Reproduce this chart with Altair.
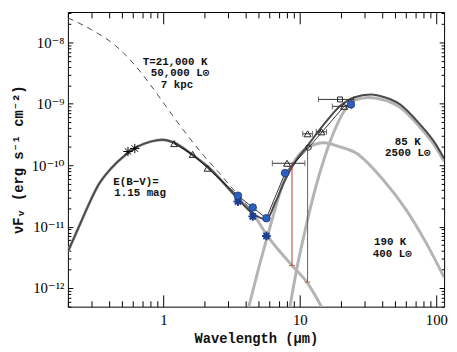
import altair as alt
import pandas as pd

# ---------------- data (wavelength in micron, nuFnu in erg s-1 cm-2)
# unreddened photosphere (dashed)
dash_wl = [0.2, 0.298, 0.444, 0.618, 0.793, 0.984, 1.416, 1.97, 2.57, 3.41, 4.9]
dash_f = [2.51e-8, 1.61e-8, 8.95e-9, 4.29e-9, 2.13e-9, 1.1e-9, 3.63e-10, 1.45e-10, 7.45e-11, 3.56e-11, 1.42e-11]

# reddened photosphere (light grey)
star_wl = [0.2, 0.24, 0.284, 0.335, 0.416, 0.524, 0.629, 0.805, 0.984, 1.2, 1.62, 2.14, 3.41, 4.52, 5.79, 8.76, 11.4, 14.4]
star_f = [3.91e-12, 9.82e-12, 2.29e-11, 4.79e-11, 8.95e-11, 1.45e-10, 1.94e-10, 2.42e-10, 2.61e-10, 2.33e-10,
          1.5e-10, 9.29e-11, 3.08e-11, 1.64e-11, 7.05e-12, 2.33e-12, 1.2e-12, 4.97e-13]

# 190 K dust component (light grey)
w190_wl = [4.23, 4.99, 6.08, 7.55, 9.2, 11.4, 15.1, 19.4, 26.1, 40.9, 59.8, 83.4, 114]
w190_f = [4.97e-13, 2.09e-12, 1.02e-11, 5.15e-11, 1.2e-10, 1.94e-10, 2.33e-10, 2.01e-10, 1.56e-10, 5.75e-11,
          1.91e-11, 5.65e-12, 1.5e-12]

# 85 K dust component (light grey)
c85_wl = [8.47, 9.51, 10.9, 12.8, 15.1, 17.9, 21.1, 24.9, 31.9, 42.3, 54.2, 75.5, 98.4, 114]
c85_f = [4.97e-13, 2.09e-12, 8.47e-12, 3.7e-11, 1.29e-10, 3.63e-10, 7.59e-10, 1.14e-9, 1.27e-9, 1.14e-9,
         8.79e-10, 4.21e-10, 2.01e-10, 1.16e-10]

# total model (dark grey)
tot_wl = [0.2, 0.24, 0.284, 0.335, 0.416, 0.524, 0.629, 0.805, 0.984, 1.2, 1.62, 2.14, 3.41, 4.52, 5.7, 6.61,
          7.8, 9.2, 11.4, 15.1, 20.0, 24.9, 33.0, 42.3, 54.2, 75.5, 98.4, 114]
tot_f = [3.91e-12, 9.82e-12, 2.29e-11, 4.79e-11, 8.95e-11, 1.45e-10, 1.94e-10, 2.42e-10, 2.61e-10, 2.33e-10,
         1.5e-10, 9.29e-11, 3.08e-11, 1.64e-11, 1.32e-11, 2.47e-11, 5.75e-11, 1.12e-10, 2.09e-10, 4.7e-10,
         9.46e-10, 1.27e-9, 1.42e-9, 1.27e-9, 9.82e-10, 4.7e-10, 2.25e-10, 1.29e-10]

# observed SED (thin black line)
obs_wl = [1.2, 1.64, 2.11, 3.52, 4.52, 5.69, 7.8, 11.6, 21.1, 23.7]
obs_f = [2.25e-10, 1.5e-10, 8.95e-11, 3.19e-11, 2.05e-11, 1.37e-11, 7.45e-11, 1.94e-10, 9.1e-10, 9.8e-10]

# photometry
ast_wl = [0.551, 0.618]
ast_f = [1.675e-10, 1.87e-10]
tri_wl = [1.2, 1.64, 2.11, 8.06, 11.4, 14.4, 21.1]
tri_f = [2.25e-10, 1.5e-10, 8.95e-11, 1.076e-10, 3.25e-10, 3.5e-10, 9.1e-10]
sq_wl = [19.7]
sq_f = [1.18e-9]
circ_wl = [11.6]
circ_f = [1.94e-10]
blue_wl = [3.52, 4.52, 5.69, 7.8, 23.7]
blue_f = [3.19e-11, 2.05e-11, 1.37e-11, 7.45e-11, 9.8e-10]
bstar_wl = [3.52, 4.52, 5.69]
bstar_f = [2.56e-11, 1.47e-11, 7.05e-12]

# horizontal error bars
err_f = [1.076e-10, 1.18e-9, 9.1e-10, 3.25e-10, 3.5e-10]
err_lo = [6.29, 13.7, 17.3, 10.5, 13.2]
err_hi = [10.9, 24.9, 24.0, 12.4, 15.7]

# red vertical ranges
red_wl = [8.76, 11.4]
red_top = [1.03e-10, 1.94e-10]
red_bot = [2.33e-12, 1.25e-12]

# annotations
ann_text = ["T=21,000 K", "50,000 L⊙", "7 kpc", "85 K", "2500 L⊙", "190 K", "400 L⊙"]
ann_wl = [1.22, 1.325, 1.26, 61.8, 61.8, 45.9, 47.5]
ann_f = [4.79e-9, 3.13e-9, 2.0e-9, 2.42e-10, 1.56e-10, 5.65e-12, 3.63e-12]
ebv_text = ["E(B−V)=", "1.15 mag"]
ebv_wl = [0.43, 0.437]
ebv_f = [5.35e-11, 3.56e-11]

# axis ticks
x_major = [1, 10, 100]
x_minor = [0.2, 0.3, 0.4, 0.5, 0.6, 0.7, 0.8, 0.9, 2, 3, 4, 5, 6, 7, 8, 9, 20, 30, 40, 50, 60, 70, 80, 90]
y_major = [1e-12, 1e-11, 1e-10, 1e-9, 1e-8]
y_minor = [k * 10.0 ** e for e in range(-13, -7) for k in range(2, 10) if 5e-13 <= k * 10.0 ** e <= 3.1e-8]

# ---------------- chart
XS = alt.Scale(type="log", domain=[0.2, 114], nice=False)
YS = alt.Scale(type="log", domain=[4.97e-13, 3.13e-8], nice=False)
FL = "Liberation Serif, DejaVu Serif"
FT = "Liberation Mono, DejaVu Sans Mono"

y_lab = ("datum.value < 5e-12 ? '10⁻¹²' : datum.value < 5e-11 ? '10⁻¹¹' : "
         "datum.value < 5e-10 ? '10⁻¹⁰' : datum.value < 5e-9 ? '10⁻⁹' : '10⁻⁸'")
x_lab = "datum.value < 5 ? '1' : datum.value < 50 ? '10' : '100'"

common = dict(domain=False, grid=False, tickColor="black", tickWidth=1, labelOverlap=False)

ax_xb_major = alt.Axis(orient="bottom", values=x_major, tickSize=12, offset=-12, labelExpr=x_lab,
                       labelFont=FL, labelFontSize=15, labelColor="black", labelPadding=6,
                       title="Wavelength (μm)", titleFont=FT, titleFontSize=14, titleFontWeight="bold",
                       titleColor="#111111", titlePadding=4, **common)
ax_xb_minor = alt.Axis(orient="bottom", values=x_minor, tickSize=6, offset=-6, labels=False, title=None, **common)
ax_xt_major = alt.Axis(orient="top", values=x_major, tickSize=12, offset=-12, labels=False, title=None, **common)
ax_xt_minor = alt.Axis(orient="top", values=x_minor, tickSize=6, offset=-6, labels=False, title=None, **common)

ax_yl_major = alt.Axis(orient="left", values=y_major, tickSize=5, offset=-5, labelExpr=y_lab,
                       labelFont=FL, labelFontSize=15, labelColor="black", labelPadding=4,
                       title="νFᵥ (erg s⁻¹ cm⁻²)", titleFont=FT, titleFontSize=14, titleFontWeight="bold",
                       titleColor="#111111", titlePadding=6, **common)
ax_yl_minor = alt.Axis(orient="left", values=y_minor, tickSize=3, offset=-3, labels=False, title=None, **common)
ax_yr_major = alt.Axis(orient="right", values=y_major, tickSize=5, offset=-5, labels=False, title=None, **common)
ax_yr_minor = alt.Axis(orient="right", values=y_minor, tickSize=3, offset=-3, labels=False, title=None, **common)


def enc(xax=None, yax=None, x="wl", y="f"):
    return dict(x=alt.X(f"{x}:Q", scale=XS, axis=xax), y=alt.Y(f"{y}:Q", scale=YS, axis=yax))


def df(wl, f):
    return pd.DataFrame({"wl": wl, "f": f})


LIGHT = "#b4b4b4"
DARK = "#4a4a4a"

l_star = alt.Chart(df(star_wl, star_f)).mark_line(color=LIGHT, strokeWidth=3, interpolate="monotone", clip=True).encode(
    **enc(ax_xb_major, ax_yl_major))
l_190 = alt.Chart(df(w190_wl, w190_f)).mark_line(color=LIGHT, strokeWidth=3, interpolate="monotone", clip=True).encode(
    **enc(ax_xb_minor, ax_yl_minor))
l_85 = alt.Chart(df(c85_wl, c85_f)).mark_line(color=LIGHT, strokeWidth=3, interpolate="monotone", clip=True).encode(
    **enc(ax_xt_major, ax_yr_major))
l_tot = alt.Chart(df(tot_wl, tot_f)).mark_line(color=DARK, strokeWidth=2, interpolate="monotone", clip=True).encode(
    **enc(ax_xt_minor, ax_yr_minor))
l_dash = alt.Chart(df(dash_wl, dash_f)).mark_line(color=DARK, strokeWidth=1, strokeDash=[6, 5],
                                                 interpolate="monotone", clip=True).encode(**enc())
l_obs = alt.Chart(df(obs_wl, obs_f)).mark_line(color="black", strokeWidth=0.8, clip=True).encode(**enc())

err_df = pd.DataFrame({"f": err_f, "lo": err_lo, "hi": err_hi})
e_bar = alt.Chart(err_df).mark_rule(color="#333333", strokeWidth=1, clip=True).encode(
    x=alt.X("lo:Q", scale=XS, axis=None), x2="hi:Q", y=alt.Y("f:Q", scale=YS, axis=None))
e_cap_lo = alt.Chart(err_df).mark_tick(color="#333333", orient="vertical", size=6, thickness=1, clip=True).encode(
    **enc(x="lo"))
e_cap_hi = alt.Chart(err_df).mark_tick(color="#333333", orient="vertical", size=6, thickness=1, clip=True).encode(
    **enc(x="hi"))

red_df = pd.DataFrame({"wl": red_wl, "top": red_top, "bot": red_bot})
r_rule = alt.Chart(red_df).mark_rule(color="#c0392b", strokeWidth=1).encode(
    x=alt.X("wl:Q", scale=XS, axis=None), y=alt.Y("top:Q", scale=YS, axis=None), y2="bot:Q")
r_cap = alt.Chart(red_df).mark_tick(color="#c0392b", orient="horizontal", size=6, thickness=1).encode(
    **enc(y="bot"))

AST = "M-1,0L1,0M0,-1L0,1M-0.7,-0.7L0.7,0.7M-0.7,0.7L0.7,-0.7"
p_ast = alt.Chart(df(ast_wl, ast_f)).mark_point(shape=AST, size=90, filled=False, color="black",
                                                 strokeWidth=1, opacity=1).encode(**enc())
p_tri = alt.Chart(df(tri_wl, tri_f)).mark_point(shape="triangle-up", size=50, filled=False, color="#222222",
                                                 strokeWidth=1, opacity=1).encode(**enc())
p_sq = alt.Chart(df(sq_wl, sq_f)).mark_point(shape="square", size=25, filled=False, color="#222222",
                                              strokeWidth=1, opacity=1).encode(**enc())
p_circ = alt.Chart(df(circ_wl, circ_f)).mark_point(shape="circle", size=30, filled=False, color="#222222",
                                                    strokeWidth=1, opacity=1).encode(**enc())
p_bstar = alt.Chart(df(bstar_wl, bstar_f)).mark_point(shape=AST, size=80, filled=False, color="#1d3d8f",
                                                       strokeWidth=2, opacity=1).encode(**enc())
p_blue = alt.Chart(df(blue_wl, blue_f)).mark_point(shape="circle", size=60, filled=True, fill="#2f5fc0",
                                                    stroke="#1a3470", strokeWidth=0.8, opacity=1).encode(**enc())

ann_df = pd.DataFrame({"wl": ann_wl, "f": ann_f, "t": ann_text})
t_ann = alt.Chart(ann_df).mark_text(font=FT, fontSize=11, fontWeight="bold", color="#111111", align="center",
                                    baseline="middle").encode(text="t:N", **enc())
ebv_df = pd.DataFrame({"wl": ebv_wl, "f": ebv_f, "t": ebv_text})
t_ebv = alt.Chart(ebv_df).mark_text(font=FT, fontSize=11, fontWeight="bold", color="#111111", align="left",
                                    baseline="middle").encode(text="t:N", **enc())

chart = alt.layer(
    l_star, l_190, l_85, l_tot, l_dash, l_obs,
    e_bar, e_cap_lo, e_cap_hi, r_rule, r_cap,
    p_ast, p_tri, p_sq, p_circ, p_bstar, p_blue,
    t_ann, t_ebv,
).resolve_axis(x="independent", y="independent").properties(
    width=383, height=300,
    autosize=alt.AutoSizeParams(type="none"),
    padding={"left": 61, "top": 1, "right": 5, "bottom": 40},
    background="white",
).configure_view(stroke="black", strokeWidth=1)

chart.save("out.html", embed_options={"renderer": "svg", "actions": False})
